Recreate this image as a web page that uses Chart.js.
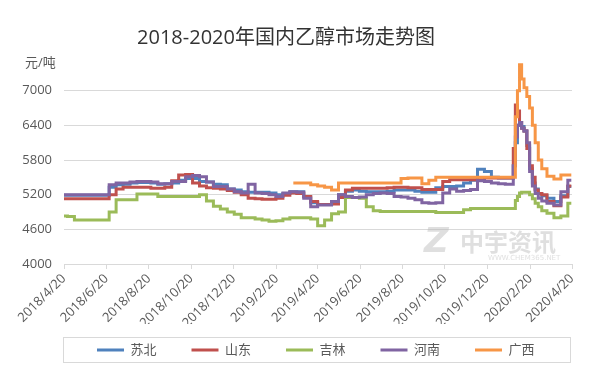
<!DOCTYPE html>
<html><head><meta charset="utf-8">
<script src="https://cdn.jsdelivr.net/npm/chart.js@4.4.1/dist/chart.umd.min.js"></script>
<style>html,body{margin:0;padding:0;background:#fff;}#wrap{width:613px;height:380px;}</style>
</head><body><div id="wrap"><canvas id="c" width="613" height="380"></canvas></div>
<script>
// day offsets from 2018/4/20
const days = [0,10,20,30,40,50,60,70,80,90,100,110,120,130,140,150,160,170,180,190,200,210,220,230,240,250,260,270,280,290,300,310,320,330,340,350,360,370,380,390,400,410,420,430,440,450,460,470,480,490,500,510,520,530,540,550,560,570,580,590,600,610,620,630,640,645,648,651,654,657,660,664,668,672,676,680,685,690,700,710,720,730];
const xTickDays = [0,61,122,183,244,306,365,426,487,548,609,671,731];
const xTickLabels = ['2018/4/20','2018/6/20','2018/8/20','2018/10/20','2018/12/20','2019/2/20','2019/4/20','2019/6/20','2019/8/20','2019/10/20','2019/12/20','2020/2/20','2020/4/20'];
const yTicks = [4000,4600,5200,5800,6400,7000];
const seriesNames = ['苏北','山东','吉林','河南','广西'];

const suBei = [5190,5190,5190,5190,5190,5190,5190,5330,5370,5380,5400,5410,5410,5400,5380,5390,5400,5450,5480,5480,5430,5420,5380,5370,5300,5280,5250,5240,5240,5240,5230,5200,5220,5250,5250,5160,5060,5030,5030,5080,5200,5260,5280,5260,5250,5250,5250,5260,5280,5280,5280,5260,5240,5240,5320,5340,5340,5350,5400,5450,5640,5600,5500,5490,5490,
  5490,5700,6100,6400,6450,6380,6300,6050,5650,5400,5300,5220,5180,5140,5080,5180,5340];
const shanDong = [5130,5130,5130,5130,5130,5130,5130,5200,5300,5330,5330,5330,5330,5310,5310,5330,5440,5540,5550,5400,5350,5320,5310,5300,5270,5240,5200,5140,5130,5120,5120,5140,5190,5230,5220,5170,5080,5030,5030,5040,5150,5280,5310,5310,5310,5310,5310,5320,5330,5330,5320,5320,5290,5290,5290,5430,5460,5460,5460,5460,5460,5490,5490,5490,5490,
  5490,6000,6750,6650,6450,6350,6300,6000,5700,5500,5280,5220,5200,5080,5010,5160,5350];
const jiLin = [4830,4820,4760,4760,4760,4760,4760,4900,5110,5110,5110,5210,5210,5210,5170,5170,5170,5170,5170,5170,5200,5090,5000,4950,4900,4860,4800,4800,4780,4760,4740,4750,4780,4800,4800,4800,4780,4660,4760,4870,4900,5150,5150,5140,4990,4920,4910,4910,4910,4910,4910,4910,4910,4910,4890,4890,4890,4890,4940,4960,4960,4960,4960,4960,4960,
  4960,4960,5100,5170,5230,5240,5240,5240,5200,5130,5050,4990,4920,4880,4800,4830,5050];
const heNan = [5200,5200,5200,5200,5200,5200,5200,5370,5400,5400,5420,5430,5430,5420,5390,5390,5430,5430,5510,5530,5510,5420,5340,5340,5300,5250,5230,5380,5230,5220,5200,5170,5230,5250,5240,5140,4990,5020,5020,5080,5200,5170,5150,5160,5200,5220,5230,5220,5170,5160,5140,5110,5060,5050,5060,5230,5300,5260,5270,5290,5440,5430,5400,5390,5380,
  5380,5700,6200,6400,6450,6350,6300,6100,5600,5350,5220,5140,5090,5050,5020,5250,5450];
const guangXi = [null,null,null,null,null,null,null,null,null,null,null,null,null,null,null,null,null,null,null,null,null,null,null,null,null,null,null,null,null,null,null,null,null,5400,5400,5400,5370,5350,5330,5280,5400,5400,5400,5400,5400,5400,5400,5400,5400,5480,5490,5490,5390,5450,5500,5500,5500,5500,5500,5500,5500,5500,5500,5500,5500,
  5500,5500,6550,7000,7450,7200,7050,6900,6700,6400,6100,5800,5650,5520,5470,5540,5540];

const colors = ['#4F81BD','#C0504D','#9BBB59','#8064A2','#F79646'];
const seriesData = [suBei, shanDong, jiLin, heNan, guangXi];
const FONT = "'Open Sans','Noto Sans CJK SC',sans-serif";
Chart.defaults.font.family = FONT;

const datasets = seriesData.map((arr, i) => ({
  label: seriesNames[i],
  data: arr.map((v, j) => ({x: days[j], y: v})),
  borderColor: colors[i],
  backgroundColor: colors[i],
  borderWidth: 3,
  pointRadius: 0,
  stepped: 'middle',
  spanGaps: false,
  order: 5 - i
}));

const decor = {
  id: 'decor',
  beforeDraw(chart) {
    const lg = chart.legend;
    lg.left = 50; lg.right = 581.5; lg.width = lg.right - lg.left;
    lg.top = 308.5; lg.bottom = 372; lg.height = lg.bottom - lg.top;
    const ctx = chart.ctx;
    ctx.save();
    ctx.fillStyle = '#fff';
    ctx.fillRect(0, 0, chart.width, chart.height);
    ctx.restore();
  },
  beforeDatasetsDraw(chart) {
    const ctx = chart.ctx;
    ctx.save();
    ctx.fillStyle = 'rgba(185,185,185,0.45)';
    ctx.font = "italic bold 34px 'DejaVu Sans'";
    ctx.textBaseline = 'alphabetic';
    ctx.fillText('Z', 424, 252);
    ctx.font = "bold 24px 'Noto Sans CJK SC'";
    ctx.fillText('中宇资讯', 460, 251);
    ctx.font = "7px 'DejaVu Sans'";
    ctx.fillText('WWW.CHEM365.NET', 488, 260);
    ctx.restore();
  },
  afterDraw(chart) {
    const ctx = chart.ctx;
    ctx.save();
    ctx.strokeStyle = '#d9d9d9';
    ctx.lineWidth = 1;
    ctx.strokeRect(63.5, 337.5, 507, 25);
    ctx.fillStyle = '#595959';
    ctx.font = "13px " + FONT;
    ctx.textAlign = 'left';
    ctx.textBaseline = 'middle';
    ctx.fillText('元/吨', 25, 63);
    ctx.restore();
  }
};

new Chart(document.getElementById('c'), {
  type: 'line',
  data: { datasets },
  options: {
    responsive: false,
    animation: false,
    devicePixelRatio: 1,
    layout: { padding: { left: 0, right: 41, top: 0, bottom: 30 } },
    scales: {
      x: {
        type: 'linear', min: 0, max: 731,
        afterBuildTicks: (axis) => { axis.ticks = xTickDays.map(v => ({ value: v })); },
        afterFit: (axis) => { axis.height = 60; },
        ticks: {
          autoSkip: false, minRotation: 45, maxRotation: 45, padding: 2,
          color: '#595959', font: { size: 13 },
          callback: (v, i) => xTickLabels[i]
        },
        grid: { display: true, drawOnChartArea: false, drawTicks: true, tickLength: 5, color: '#d9d9d9' },
        border: { display: true, color: '#d9d9d9' }
      },
      y: {
        type: 'linear', min: 4000, max: 7600,
        afterBuildTicks: (axis) => { axis.ticks = yTicks.map(v => ({ value: v })); },
        afterFit: (axis) => { axis.width = 64; },
        ticks: { padding: 12, color: '#595959', font: { size: 13 }, callback: (v) => String(v) },
        grid: { color: '#d9d9d9', drawTicks: false },
        border: { display: false }
      }
    },
    plugins: {
      title: {
        display: true, text: '2018-2020年国内乙醇市场走势图',
        color: '#333', font: { size: 20, weight: 'normal', lineHeight: 1.2 },
        padding: { top: 26, bottom: 6 }
      },
      legend: {
        position: 'bottom', maxHeight: 26,
        labels: {
          boxWidth: 27, boxHeight: 3, padding: 35, color: '#595959', font: { size: 13 },
          sort: (a, b) => a.datasetIndex - b.datasetIndex,
          generateLabels: (chart) => Chart.defaults.plugins.legend.labels.generateLabels(chart)
            .map(l => Object.assign(l, { lineWidth: 0, fillStyle: colors[l.datasetIndex] }))
        }
      },
      tooltip: { enabled: false }
    }
  },
  plugins: [decor]
});
</script></body></html>
